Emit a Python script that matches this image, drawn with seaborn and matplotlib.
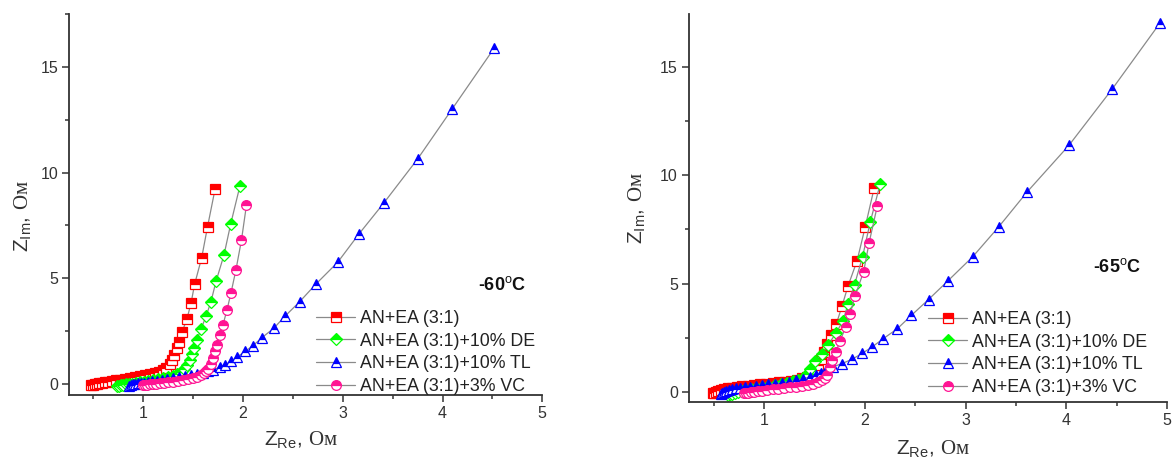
import matplotlib
matplotlib.use("Agg")
import matplotlib.pyplot as plt
from matplotlib.ticker import MultipleLocator
import seaborn as sns
import pandas as pd

# ---------------- data (-60 C) ----------------
labels = ["AN+EA (3:1)", "AN+EA (3:1)+10% DE", "AN+EA (3:1)+10% TL", "AN+EA (3:1)+3% VC"]

red60_x = [0.48, 0.50, 0.52, 0.54, 0.56, 0.59, 0.62, 0.65, 0.69, 0.73, 0.77, 0.82, 0.87, 0.92, 0.97, 1.02, 1.07, 1.12, 1.16, 1.20, 1.23,
           1.265, 1.29, 1.31, 1.337, 1.36, 1.39, 1.44, 1.48, 1.516, 1.587, 1.645, 1.72]
red60_y = [-0.05, -0.03, -0.01, 0.01, 0.03, 0.05, 0.08, 0.11, 0.14, 0.18, 0.21, 0.25, 0.29, 0.33, 0.37, 0.41, 0.46, 0.52, 0.58, 0.65, 0.78,
           0.94, 1.15, 1.39, 1.70, 2.01, 2.46, 3.09, 3.83, 4.72, 5.98, 7.43, 9.2]

green60_x = [0.74, 0.76, 0.78, 0.80, 0.83, 0.86, 0.89, 0.93, 0.97, 1.01, 1.05, 1.10, 1.15, 1.20, 1.25, 1.30, 1.34, 1.38, 1.41, 1.44,
             1.465, 1.49, 1.51, 1.54, 1.58, 1.63, 1.68, 1.73, 1.81, 1.877, 1.97]
green60_y = [-0.1, -0.08, -0.06, -0.04, -0.02, 0.0, 0.02, 0.05, 0.08, 0.11, 0.14, 0.18, 0.22, 0.27, 0.32, 0.39, 0.47, 0.58, 0.72, 0.92,
             1.15, 1.42, 1.7, 2.1, 2.6, 3.2, 3.9, 4.85, 6.1, 7.56, 9.37]

blue60_x = [0.86, 0.88, 0.90, 0.92, 0.95, 0.98, 1.01, 1.05, 1.09, 1.14, 1.19, 1.24, 1.30, 1.36, 1.42, 1.48, 1.54, 1.60, 1.65, 1.70,
            1.77, 1.82, 1.88, 1.94, 2.02, 2.10, 2.19, 2.31, 2.42, 2.57, 2.73, 2.95, 3.16, 3.41, 3.75, 4.10, 4.52]
blue60_y = [-0.08, -0.05, -0.02, 0.0, 0.03, 0.05, 0.07, 0.1, 0.13, 0.16, 0.2, 0.23, 0.27, 0.31, 0.36, 0.41, 0.47, 0.53, 0.6, 0.68,
            0.79, 0.91, 1.07, 1.27, 1.54, 1.81, 2.19, 2.64, 3.2, 3.9, 4.72, 5.76, 7.08, 8.55, 10.64, 13.03, 15.9]

pink60_x = [1.00, 1.02, 1.04, 1.07, 1.10, 1.13, 1.17, 1.21, 1.25, 1.30, 1.35, 1.40, 1.45, 1.50, 1.54, 1.58, 1.61, 1.63, 1.65, 1.68,
            1.70, 1.72, 1.74, 1.77, 1.80, 1.84, 1.88, 1.93, 1.985, 2.035]
pink60_y = [-0.05, -0.04, -0.03, -0.01, 0.0, 0.02, 0.04, 0.06, 0.08, 0.11, 0.14, 0.18, 0.22, 0.27, 0.33, 0.41, 0.5, 0.6, 0.72, 0.95,
            1.25, 1.55, 1.85, 2.3, 2.8, 3.5, 4.3, 5.4, 6.8, 8.45]

# ---------------- data (-65 C) ----------------
red65_x = [0.49, 0.50, 0.52, 0.54, 0.57, 0.60, 0.64, 0.68, 0.73, 0.78, 0.84, 0.90, 0.96, 1.02, 1.08, 1.14, 1.20, 1.26, 1.32, 1.37,
           1.42, 1.46, 1.50, 1.53, 1.56, 1.59, 1.62, 1.66, 1.715, 1.77, 1.83, 1.92, 2.0, 2.09]
red65_y = [-0.08, -0.04, 0.0, 0.04, 0.08, 0.12, 0.16, 0.19, 0.22, 0.25, 0.28, 0.31, 0.34, 0.37, 0.4, 0.43, 0.47, 0.51, 0.56, 0.62,
           0.7, 0.82, 1.0, 1.22, 1.5, 1.85, 2.21, 2.6, 3.14, 3.95, 4.88, 6.05, 7.59, 9.41]

green65_x = [0.64, 0.66, 0.68, 0.71, 0.74, 0.78, 0.82, 0.87, 0.92, 0.98, 1.04, 1.10, 1.16, 1.22, 1.28, 1.33, 1.38, 1.42, 1.455, 1.505,
             1.57, 1.635, 1.71, 1.78, 1.83, 1.895, 1.975, 2.05, 2.15]
green65_y = [-0.15, -0.12, -0.09, -0.05, -0.02, 0.02, 0.06, 0.11, 0.15, 0.2, 0.25, 0.3, 0.35, 0.41, 0.48, 0.55, 0.65, 0.8, 1.05, 1.41,
             1.75, 2.18, 2.71, 3.27, 4.04, 4.95, 6.24, 7.82, 9.6]

blue65_x = [0.57, 0.58, 0.60, 0.62, 0.65, 0.68, 0.72, 0.76, 0.81, 0.86, 0.92, 0.98, 1.04, 1.10, 1.17, 1.24, 1.31, 1.38, 1.45, 1.51,
            1.56, 1.61, 1.68, 1.77, 1.87, 1.97, 2.07, 2.18, 2.32, 2.46, 2.63, 2.82, 3.07, 3.33, 3.61, 4.025, 4.455, 4.93]
blue65_y = [-0.1, -0.05, 0.0, 0.04, 0.08, 0.12, 0.15, 0.18, 0.21, 0.24, 0.27, 0.3, 0.34, 0.38, 0.42, 0.47, 0.53, 0.6, 0.68, 0.77,
            0.87, 1.0, 1.15, 1.3, 1.5, 1.77, 2.07, 2.45, 2.91, 3.53, 4.26, 5.11, 6.24, 7.63, 9.23, 11.38, 13.98, 17.03]

pink65_x = [0.80, 0.82, 0.84, 0.87, 0.90, 0.94, 0.98, 1.03, 1.08, 1.13, 1.19, 1.25, 1.31, 1.37, 1.43, 1.48, 1.53, 1.57, 1.60, 1.62,
            1.65, 1.67, 1.71, 1.75, 1.81, 1.85, 1.90, 1.985, 2.04, 2.12]
pink65_y = [-0.08, -0.06, -0.04, -0.02, 0.0, 0.03, 0.05, 0.08, 0.11, 0.14, 0.17, 0.2, 0.24, 0.28, 0.33, 0.38, 0.45, 0.54, 0.65, 0.77,
            1.15, 1.46, 1.82, 2.36, 3.0, 3.58, 4.43, 5.54, 6.89, 8.56]

colors = ["#FF0000", "#00FF00", "#0000FF", "#FF1493"]
markers = ["s", "D", "^", "o"]
msizes = [6.5, 6.5, 7.5, 7.0]

sns.set_style("ticks")
plt.rcParams["font.family"] = ["Liberation Sans", "DejaVu Sans"]
plt.rcParams["mathtext.fontset"] = "custom"
plt.rcParams["mathtext.rm"] = "Liberation Serif"
plt.rcParams["mathtext.sf"] = "Liberation Sans"

W, H = 1173, 463
fig = plt.figure(figsize=(W / 100, H / 100), dpi=100)


def px_axes(x0, y0, x1, y1):
    return fig.add_axes([x0 / W, 1 - y1 / H, (x1 - x0) / W, (y1 - y0) / H])


ax1 = px_axes(69.3, 14, 542.3, 395)
ax2 = px_axes(689, 14, 1167, 401.7)

panels = [
    (ax1, [(red60_x, red60_y), (green60_x, green60_y), (blue60_x, blue60_y), (pink60_x, pink60_y)],
     (0.26, 5.0), (-0.52, 17.5)),
    (ax2, [(red65_x, red65_y), (green65_x, green65_y), (blue65_x, blue65_y), (pink65_x, pink65_y)],
     (0.25, 5.0), (-0.46, 17.45)),
]

xlab = r"$\mathsf{Z}_{\mathsf{Re}}\mathsf{,}\ \mathrm{Ом}$"
ylab = r"$\mathsf{Z}_{\mathsf{Im}}\mathsf{,}\ \mathrm{Ом}$"

for ax, series, xl, yl in panels:
    for (xs, ys), lab, c, m, ms in zip(series, labels, colors, markers, msizes):
        df = pd.DataFrame({"x": xs, "y": ys})
        sns.lineplot(data=df, x="x", y="y", sort=False, estimator=None, ax=ax,
                     color="#8a8a8a", linewidth=0.9, label=lab,
                     marker=m, markersize=ms, markerfacecolor=c, markeredgecolor=c,
                     markerfacecoloralt="white", fillstyle="top", markeredgewidth=0.9)
    ax.set_xlim(*xl)
    ax.set_ylim(*yl)
    ax.xaxis.set_major_locator(MultipleLocator(1))
    ax.xaxis.set_minor_locator(MultipleLocator(0.5))
    ax.yaxis.set_major_locator(MultipleLocator(5))
    ax.yaxis.set_minor_locator(MultipleLocator(2.5))
    ax.tick_params(which="major", direction="out", length=5, width=1.1, color="#333333",
                   labelsize=11.5, labelcolor="#333333", pad=3)
    ax.tick_params(which="minor", direction="out", length=3, width=1.1, color="#333333")
    for s in ["top", "right"]:
        ax.spines[s].set_visible(False)
    for s in ["left", "bottom"]:
        ax.spines[s].set_linewidth(1.3)
        ax.spines[s].set_color("#333333")
    ax.set_xlabel(xlab, fontsize=15, color="#333333")
    ax.set_ylabel(ylab, fontsize=15, color="#333333")
    ax.grid(False)

ax1.text(478, H - 285, "-60$^{\\mathsf{o}}$C", transform=None, fontsize=13,
         fontweight="bold", va="center", ha="left", color="#111111")
ax2.text(1093, H - 267, "-65$^{\\mathsf{o}}$C", transform=None, fontsize=13,
         fontweight="bold", va="center", ha="left", color="#111111")

ax1.xaxis.set_label_coords(0.49, -0.09)
ax1.yaxis.set_label_coords(-0.075, 0.47)
ax2.xaxis.set_label_coords(0.51, -0.095)
ax2.yaxis.set_label_coords(-0.085, 0.5)

for ax, lx, ly in [(ax1, 316, 310), (ax2, 928, 311)]:
    ax.legend(loc="upper left", bbox_to_anchor=(lx / W, 1 - ly / H), bbox_transform=fig.transFigure,
              frameon=False, fontsize=12.8, handlelength=2.2, handletextpad=0.3,
              labelspacing=0.32, borderpad=0, borderaxespad=0, labelcolor="#222222")

fig.savefig("out.png", dpi=100)
